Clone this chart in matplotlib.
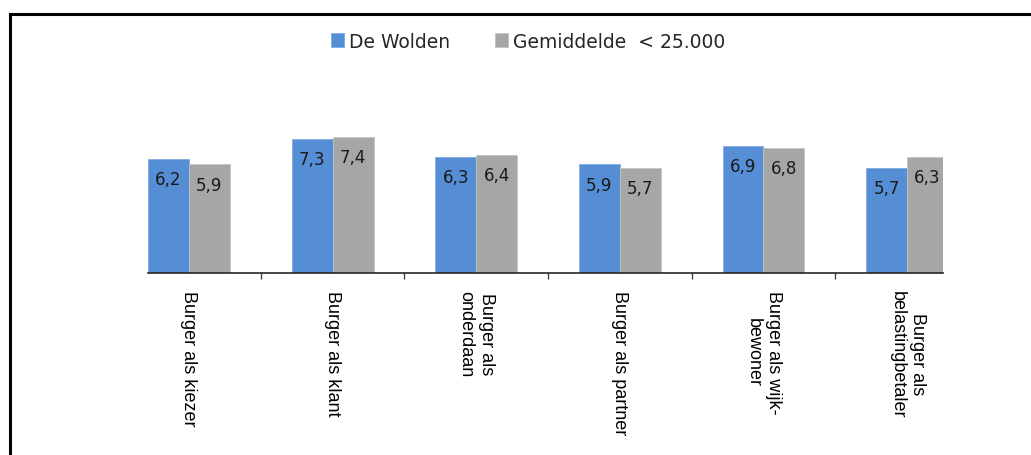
import matplotlib

matplotlib.use('Agg')

import matplotlib.pyplot as plt
import numpy as np
from matplotlib.lines import Line2D

categories = ['Burger als kiezer', 'Burger als klant', 'Burger als\nonderdaan',
              'Burger als partner', 'Burger als wijk-\nbewoner', 'Burger als\nbelastingbetaler']
de_wolden = [6.2, 7.3, 6.3, 5.9, 6.9, 5.7]
gemiddelde = [5.9, 7.4, 6.4, 5.7, 6.8, 6.3]
series_names = ['De Wolden', 'Gemiddelde  < 25.000']

blue = '#558ED5'
grey = '#A6A6A6'

W, H = 1031, 456
fig = plt.figure(figsize=(W / 100, H / 100), dpi=100)
ax = fig.add_axes([148 / W, 1 - 274 / H, (943 - 148) / W, (274 - 90) / H])

ind = np.arange(len(categories))
width = 0.285
rects1 = ax.bar(ind - width / 2, de_wolden, width, color=blue, edgecolor='#7FAAE0', linewidth=0.6,
                label=series_names[0])
rects2 = ax.bar(ind + width / 2, gemiddelde, width, color=grey, edgecolor='#C4C4C4', linewidth=0.6,
                label=series_names[1])

for rects, vals in ((rects1, de_wolden), (rects2, gemiddelde)):
    for rect, v in zip(rects, vals):
        ax.annotate(('%.1f' % v).replace('.', ','),
                    (rect.get_x() + rect.get_width() / 2, rect.get_height()),
                    xytext=(0, -8), textcoords='offset points', ha='center', va='top',
                    fontsize=12, color='#1a1a1a', family='DejaVu Sans')

ax.set_xlim(-width, 5.25)
ax.set_ylim(0, 10)

for s in ('top', 'right', 'left'):
    ax.spines[s].set_visible(False)
ax.spines['bottom'].set_color('#262626')
ax.spines['bottom'].set_linewidth(1.2)
ax.set_yticks([])

ax.set_xticks(ind)
ax.set_xticklabels(categories, rotation=-90, fontsize=13, family='Liberation Sans',
                   color='black', linespacing=1.25)
ax.tick_params(axis='x', which='major', length=0, pad=12)
ax.set_xticks(ind[:-1] + 0.5, minor=True)
ax.tick_params(axis='x', which='minor', length=4, width=1, color='#404040')

leg = fig.legend(loc='center', bbox_to_anchor=(528 / W, 1 - 42 / H), ncol=2, frameon=False,
                 handlelength=0.7, handleheight=0.7, handletextpad=0.25, columnspacing=2.4,
                 prop={'family': 'DejaVu Sans', 'size': 13.5})
for t in leg.get_texts():
    t.set_color('#262626')

# frame lines of the original picture (only top and left visible)
fig.add_artist(Line2D([10 / W, 1], [1 - 15 / H, 1 - 15 / H], transform=fig.transFigure,
                      color='black', linewidth=2.2))
fig.add_artist(Line2D([10 / W, 10 / W], [0, 1 - 15 / H], transform=fig.transFigure,
                      color='black', linewidth=2.2))

plt.savefig('out.png', dpi=100)
